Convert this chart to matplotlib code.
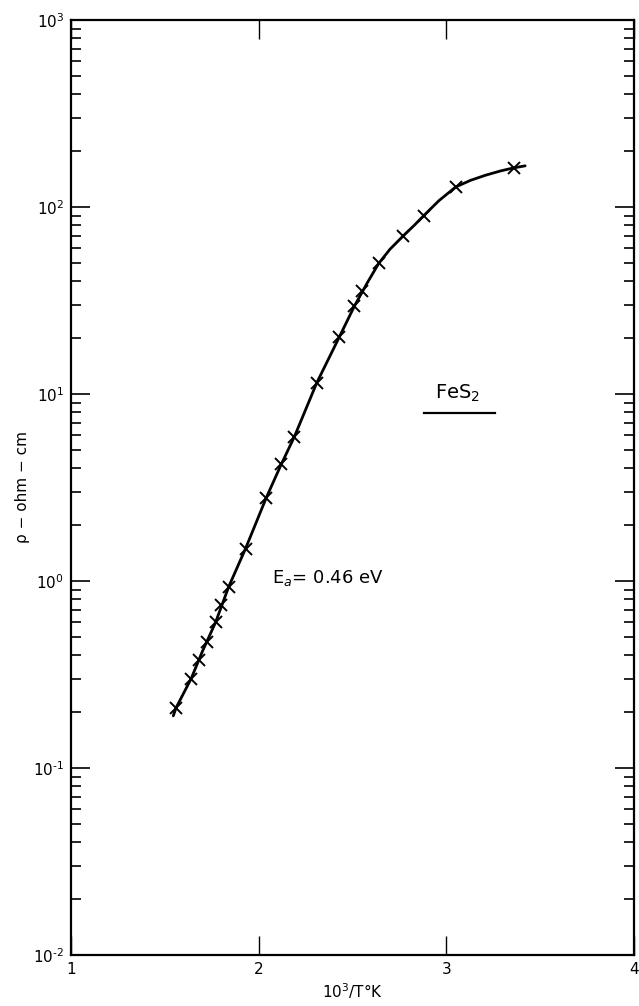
import matplotlib
matplotlib.use("Agg")
import matplotlib.pyplot as plt
from matplotlib.ticker import FixedLocator, LogLocator, NullFormatter

# measured points (10^3/T, resistivity ohm-cm)
inv_T = [1.56, 1.64, 1.68, 1.725, 1.77, 1.80, 1.84, 1.93, 2.04, 2.12, 2.19,
         2.31, 2.43, 2.51, 2.55, 2.64, 2.77, 2.88, 3.05, 3.36]
rho = [0.21, 0.30, 0.38, 0.47, 0.60, 0.74, 0.93, 1.49, 2.78, 4.2, 5.9,
       11.5, 20.2, 29.5, 35.5, 50, 70, 90, 128, 162]

# hand-drawn smooth curve
curve_x = [1.545, 1.56, 1.64, 1.70, 1.77, 1.84, 1.93, 2.04, 2.12, 2.19, 2.31,
           2.43, 2.51, 2.58, 2.64, 2.70, 2.77, 2.83, 2.88, 2.96, 3.05, 3.13,
           3.21, 3.29, 3.36, 3.42]
curve_rho = [0.19, 0.21, 0.30, 0.42, 0.60, 0.93, 1.49, 2.78, 4.2, 5.9, 11.5,
             20.2, 29.5, 39.5, 50, 59.5, 70, 80, 90, 108, 128, 139,
             148, 156, 162, 166]

xticks = [1, 2, 3, 4]
xticklabels = ["1", "2", "3", "4"]
yticks = [1e-2, 1e-1, 1e0, 1e1, 1e2, 1e3]
yticklabels = ["10$^{\u20102}$", "10$^{\u20101}$", "10$^{0}$", "10$^{1}$", "10$^{2}$", "10$^{3}$"]

fig = plt.figure(figsize=(6.39, 10.06), dpi=100)
ax = fig.add_axes([71/639, 1-955/1006, (634-71)/639, (955-20)/1006])

ax.plot(curve_x, curve_rho, color="black", lw=2.0, solid_capstyle="round")
ax.plot(inv_T, rho, linestyle="none", marker="x", color="black", ms=8, mew=1.4)

ax.set_yscale("log")
ax.set_xlim(1, 4)
ax.set_ylim(1e-2, 1e3)

ax.xaxis.set_major_locator(FixedLocator(xticks))
ax.set_xticklabels(xticklabels, fontsize=11)
ax.yaxis.set_major_locator(FixedLocator(yticks))
ax.set_yticklabels(yticklabels, fontsize=11)
ax.yaxis.set_minor_locator(LogLocator(base=10, subs=range(2, 10)))
ax.yaxis.set_minor_formatter(NullFormatter())

ax.tick_params(axis="both", which="both", direction="in", top=True, right=True, color="black")
ax.tick_params(axis="y", which="major", length=14, width=1.2, pad=5)
ax.tick_params(axis="y", which="minor", length=7, width=1.2)
ax.tick_params(axis="x", which="major", length=14, width=1.0, pad=5)

for s in ax.spines.values():
    s.set_linewidth(1.6)

ax.set_xlabel("10$^{3}$/T°K", fontsize=11, labelpad=3)
ax.set_ylabel("ρ − ohm − cm", fontsize=11, labelpad=2)

ax.text(3.06, 10 ** ((581 - 393) / 187), "FeS$_{2}$", fontsize=14, ha="center", va="center")
ax.plot([2.88, 3.26], [10 ** ((581 - 413) / 187)] * 2, color="black", lw=1.6)
ax.text(2.37, 10 ** ((581 - 578) / 187), "E$_{a}$= 0.46 eV", fontsize=13, ha="center", va="center")

fig.savefig("out.png", dpi=100)
